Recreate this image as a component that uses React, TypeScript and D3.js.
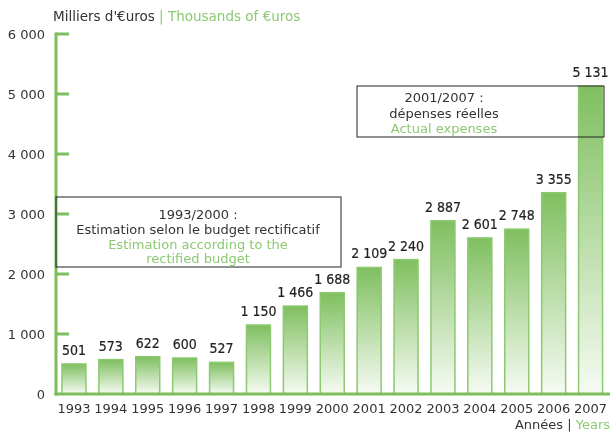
import * as d3 from "d3";

const years = ["1993", "1994", "1995", "1996", "1997", "1998", "1999", "2000", "2001", "2002", "2003", "2004", "2005", "2006", "2007"];
const values = [501, 573, 622, 600, 527, 1150, 1466, 1688, 2109, 2240, 2887, 2601, 2748, 3355, 5131];
const yTicks = [0, 1000, 2000, 3000, 4000, 5000, 6000];

const fmt = (v: number) => d3.format(",")(v).replace(/,/g, " ");

const GREEN = "#7dbd5c";
const LIGHT = "#8cc971";
const FONT = "'DejaVu Sans', sans-serif";

export default function App() {
  const x = d3.scaleBand<string>().domain(years).range([55.5, 609]).paddingInner(0.35).paddingOuter(0.175);
  const y = d3.scaleLinear().domain([0, 6000]).range([394, 34]);

  return (
    <svg width={612} height={432} style={{ position: "fixed", left: 0, top: 0 }} fontFamily={FONT}>
      <defs>
        <linearGradient id="barFill" x1="0" y1="0" x2="0" y2="1">
          <stop offset="0%" stopColor="#7fbf5f" />
          <stop offset="100%" stopColor="#f6fbf3" />
        </linearGradient>
      </defs>

      <text x={53} y={21} fontSize={13.5} fill="#333">
        Milliers d'€uros <tspan fill={LIGHT}>| Thousands of €uros</tspan>
      </text>

      {years.map((yr, i) => (
        <g key={yr}>
          <rect
            x={x(yr)}
            y={y(values[i])}
            width={x.bandwidth()}
            height={y(0) - y(values[i])}
            fill="url(#barFill)"
            stroke={LIGHT}
            strokeWidth={1.5}
          />
          <text
            x={(x(yr) as number) + x.bandwidth() / 2}
            y={y(values[i]) - 9}
            textAnchor="middle"
            fontSize={14}
            fontFamily="'DejaVu Sans Condensed', sans-serif"
            fill="#222"
            stroke="#222"
            strokeWidth={0.2}
          >
            {fmt(values[i])}
          </text>
          <text
            x={(x(yr) as number) + x.bandwidth() / 2}
            y={413}
            textAnchor="middle"
            fontSize={13}
            fill="#333"
          >
            {yr}
          </text>
        </g>
      ))}

      {/* axes */}
      <line x1={56} x2={56} y1={y(6000) - 1.5} y2={y(0) + 1.5} stroke={GREEN} strokeWidth={3} />
      <line x1={54.5} x2={610} y1={y(0)} y2={y(0)} stroke={GREEN} strokeWidth={3} />
      {yTicks.map((t) => (
        <g key={t}>
          {t > 0 && <line x1={56} x2={69} y1={y(t)} y2={y(t)} stroke={GREEN} strokeWidth={3} />}
          <text x={45} y={y(t) + 5} textAnchor="end" fontSize={13} fill="#333">
            {fmt(t)}
          </text>
        </g>
      ))}

      <text x={610} y={429} textAnchor="end" fontSize={13} fill="#333">
        Années | <tspan fill={LIGHT}>Years</tspan>
      </text>

      {/* annotation boxes */}
      <rect x={56} y={197} width={285} height={70} fill="none" stroke="#222" strokeWidth={1} />
      <g textAnchor="middle" fontSize={13}>
        <text x={198} y={219} fill="#333">1993/2000 :</text>
        <text x={198} y={234} fill="#333">Estimation selon le budget rectificatif</text>
        <text x={198} y={249} fill={LIGHT}>Estimation according to the</text>
        <text x={198} y={263} fill={LIGHT}>rectified budget</text>
      </g>
      <rect x={357} y={86} width={247} height={51} fill="none" stroke="#222" strokeWidth={1} />
      <g textAnchor="middle" fontSize={13}>
        <text x={444} y={102} fill="#333">2001/2007 :</text>
        <text x={444} y={118} fill="#333">dépenses réelles</text>
        <text x={444} y={133} fill={LIGHT}>Actual expenses</text>
      </g>
    </svg>
  );
}
